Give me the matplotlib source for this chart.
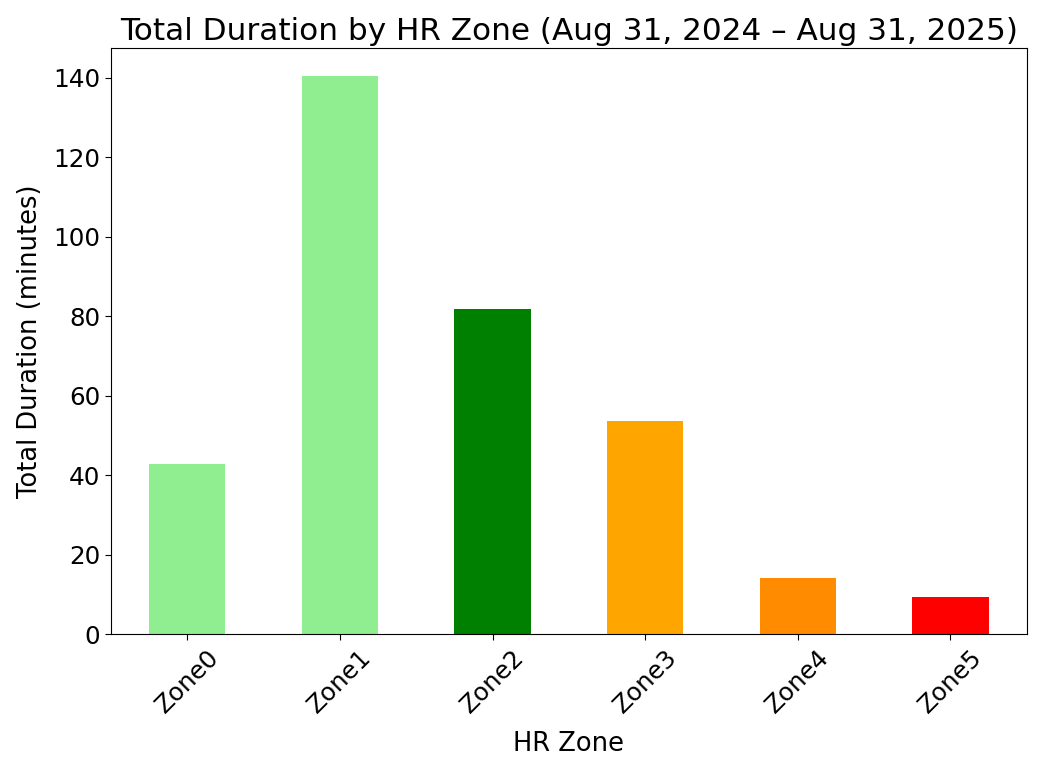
import matplotlib
matplotlib.use("Agg")
import matplotlib.pyplot as plt
import pandas as pd

zones = ["Zone0", "Zone1", "Zone2", "Zone3", "Zone4", "Zone5"]
minutes = [42.8, 140.4, 81.7, 53.7, 14.0, 9.3]
zone_colors = ["lightgreen", "lightgreen", "green", "orange", "darkorange", "red"]

totals = pd.Series(minutes, index=zones)

fig = plt.figure(figsize=(10.52, 7.78), dpi=100)
ax = fig.add_axes([0.1055, 0.185, 0.8705, 0.753])
totals.plot(kind="bar", color=zone_colors, ax=ax)

ax.set_title("Total Duration by HR Zone (Aug 31, 2024 \u2013 Aug 31, 2025)", fontsize=22.4)
ax.set_xlabel("HR Zone", fontsize=18.5, labelpad=10)
ax.set_ylabel("Total Duration (minutes)", fontsize=18.5, labelpad=7)
ax.tick_params(axis="both", labelsize=17.7, length=4.4)
plt.setp(ax.get_xticklabels(), rotation=45)

fig.savefig("out.png", dpi=100)
